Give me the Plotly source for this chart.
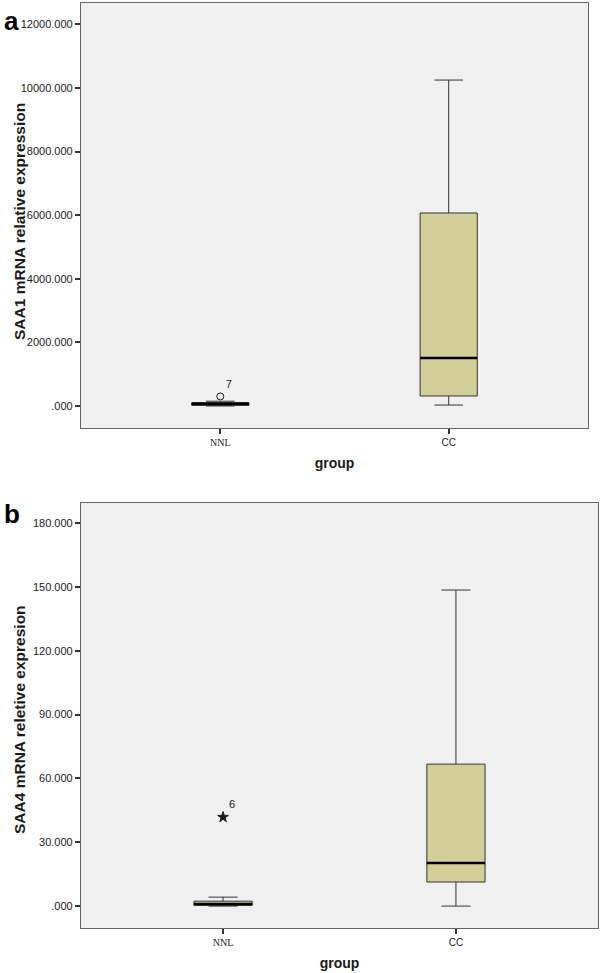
import plotly.graph_objects as go

# ---- data ----
groups = ["NNL", "CC"]
# panel a: SAA1
saa1_lower = [0, 30]
saa1_q1 = [20, 315]
saa1_median = [60, 1510]
saa1_q3 = [110, 6070]
saa1_upper = [150, 10250]
saa1_outlier_x = [0]
saa1_outlier_y = [300]
saa1_outlier_lbl = ["7"]
saa1_ticks = [0, 2000, 4000, 6000, 8000, 10000, 12000]
saa1_ticktext = [".000", "2000.000", "4000.000", "6000.000", "8000.000", "10000.000", "12000.000"]

# panel b: SAA4
saa4_lower = [0.0, 0.0]
saa4_q1 = [0.3, 11.3]
saa4_median = [1.0, 20.2]
saa4_q3 = [2.3, 66.7]
saa4_upper = [4.2, 148.5]
saa4_outlier_x = [0]
saa4_outlier_y = [41.8]
saa4_outlier_lbl = ["6"]
saa4_ticks = [0, 30, 60, 90, 120, 150, 180]
saa4_ticktext = [".000", "30.000", "60.000", "90.000", "120.000", "150.000", "180.000"]

xpos = [0, 1]
xlabels = ['<span style="font-family:Liberation Serif">' + groups[0] + '</span>', groups[1]]

BOXW = 0.25
FILL = "#d3cf98"
FONT = "Liberation Sans, Arial, sans-serif"
TXT = "#1a1a1a"

fig = go.Figure()

def add_panel(lower, q1, med, q3, upper, ox, oy, olbl, marker_symbol, msize, xa, ya):
    fig.add_trace(go.Box(
        x=xpos, lowerfence=lower, q1=q1, median=med, q3=q3, upperfence=upper,
        width=BOXW, whiskerwidth=0.5, fillcolor=FILL,
        line=dict(color="#333333", width=1), boxpoints=False,
        xaxis=xa, yaxis=ya, showlegend=False, hoverinfo="skip"))
    for i, m in enumerate(med):
        fig.add_trace(go.Scatter(
            x=[xpos[i] - BOXW / 2, xpos[i] + BOXW / 2], y=[m, m], mode="lines",
            line=dict(color="black", width=2.5), xaxis=xa, yaxis=ya,
            showlegend=False, hoverinfo="skip"))
    fig.add_trace(go.Scatter(
        x=ox, y=oy, mode="markers+text", text=olbl, textposition="top right",
        textfont=dict(family=FONT, size=11, color=TXT),
        marker=dict(symbol=marker_symbol, size=msize, color=TXT,
                    line=dict(color=TXT, width=1)),
        xaxis=xa, yaxis=ya, showlegend=False, hoverinfo="skip"))

add_panel(saa1_lower, saa1_q1, saa1_median, saa1_q3, saa1_upper,
          saa1_outlier_x, saa1_outlier_y, saa1_outlier_lbl, "circle-open", 7, "x", "y")
add_panel(saa4_lower, saa4_q1, saa4_median, saa4_q3, saa4_upper,
          saa4_outlier_x, saa4_outlier_y, saa4_outlier_lbl, "star", 8, "x2", "y2")

W, H = 600, 973
def px_x(a, b):
    return [a / W, b / W]
def px_y(top, bottom):
    return [1 - bottom / H, 1 - top / H]

common_x = dict(range=[-0.61, 1.61], tickvals=xpos, ticktext=xlabels,
                ticks="outside", ticklen=5, tickwidth=1.5, tickcolor="#333",
                showgrid=False, zeroline=False, showline=True, mirror=True,
                linecolor="#666", linewidth=1.2, automargin=False,
                tickfont=dict(family=FONT, size=10, color=TXT),
                title=dict(text="<b>group</b>", font=dict(family=FONT, size=14, color=TXT), standoff=11))
common_y = dict(ticks="outside", ticklen=5, tickwidth=1.5, tickcolor="#333",
                showgrid=False, zeroline=False, showline=True, mirror=True,
                linecolor="#666", linewidth=1.2, automargin=False,
                tickfont=dict(family=FONT, size=11, color=TXT))

def ytitle(text, cx, cy):
    return dict(text="<b>" + text + "</b>", x=cx / W, y=1 - cy / H,
                xref="paper", yref="paper", xanchor="center", yanchor="middle",
                textangle=-90, showarrow=False,
                font=dict(family=FONT, size=15.5, color=TXT))

fig.update_layout(
    template="none",
    width=W, height=H, margin=dict(l=0, r=0, t=0, b=0),
    paper_bgcolor="white", plot_bgcolor="#f0f0f0",
    xaxis=dict(domain=px_x(81, 588), anchor="y", **common_x),
    yaxis=dict(domain=px_y(3, 428), anchor="x", range=[-692, 12673],
               tickvals=saa1_ticks, ticktext=saa1_ticktext, **common_y),
    xaxis2=dict(domain=px_x(81, 598), anchor="y2", **common_x),
    yaxis2=dict(domain=px_y(503, 928), anchor="x2", range=[-10.3, 189.4],
                tickvals=saa4_ticks, ticktext=saa4_ticktext, **common_y),
    annotations=[
        dict(text="<b>a</b>", x=2 / W, y=1 - 4 / H, xref="paper", yref="paper",
             xanchor="left", yanchor="top", showarrow=False,
             font=dict(family=FONT, size=26, color="black")),
        dict(text="<b>b</b>", x=2 / W, y=1 - 497 / H, xref="paper", yref="paper",
             xanchor="left", yanchor="top", showarrow=False,
             font=dict(family=FONT, size=26, color="black")),
        ytitle("SAA1 mRNA relative expression", 19, 222),
        ytitle("SAA4 mRNA reletive expresion", 19, 720),
    ],
)

fig.write_html("out.html", config={"displayModeBar": False},
               post_script="document.body.style.margin='0';document.body.style.padding='0';document.body.style.overflow='hidden';")
